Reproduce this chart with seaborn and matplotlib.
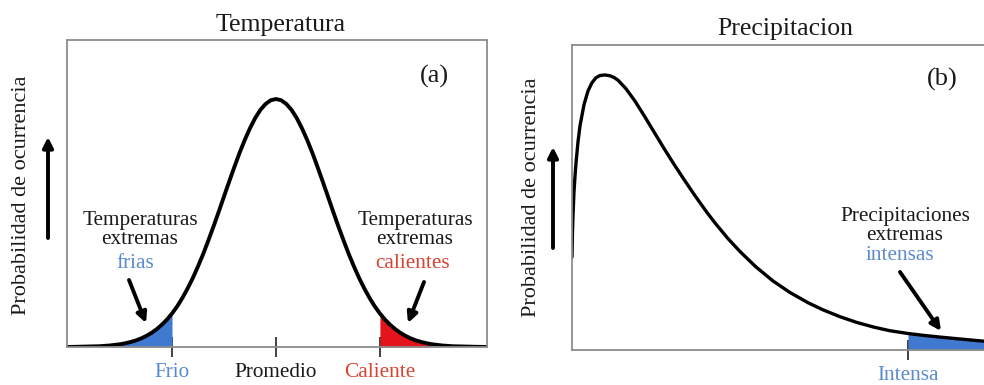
import numpy as np
import pandas as pd
import matplotlib
matplotlib.use("Agg")
import matplotlib.pyplot as plt
import seaborn as sns

# ---------------- data ----------------
# Panel (a): temperature distribution (x in std-devs from mean, y relative probability)
temp_x = [-4.02, -3.8, -3.6, -3.4, -3.2, -3.0, -2.9, -2.8, -2.7, -2.6, -2.5, -2.4,
          -2.3, -2.2, -2.1, -2.0, -1.9, -1.8, -1.7, -1.6, -1.5, -1.4, -1.3, -1.2,
          -1.1, -1.0, -0.9, -0.8, -0.7, -0.6, -0.5, -0.4, -0.3, -0.2, -0.1, 0.0,
          0.1, 0.2, 0.3, 0.4, 0.5, 0.6, 0.7, 0.8, 0.9, 1.0, 1.1, 1.2,
          1.3, 1.4, 1.5, 1.6, 1.7, 1.8, 1.9, 2.0, 2.1, 2.2, 2.3, 2.4,
          2.5, 2.6, 2.7, 2.8, 2.9, 3.0, 3.2, 3.4, 3.6, 3.8, 4.06]
temp_y = [0.000, 0.001, 0.002, 0.003, 0.006, 0.011, 0.015, 0.020, 0.026, 0.034, 0.044, 0.056,
          0.071, 0.089, 0.110, 0.135, 0.164, 0.198, 0.236, 0.278, 0.325, 0.375, 0.430, 0.487,
          0.546, 0.607, 0.667, 0.726, 0.783, 0.835, 0.882, 0.923, 0.956, 0.980, 0.995, 1.000,
          0.995, 0.980, 0.956, 0.923, 0.882, 0.835, 0.783, 0.726, 0.667, 0.607, 0.546, 0.487,
          0.430, 0.375, 0.325, 0.278, 0.236, 0.198, 0.164, 0.135, 0.110, 0.089, 0.071, 0.056,
          0.044, 0.034, 0.026, 0.020, 0.015, 0.011, 0.006, 0.003, 0.002, 0.001, 0.000]
temp_ticks = [-2.0, 0.0, 2.0]
temp_labels = ["Frio", "Promedio", "Caliente"]
cold_range = [-3.0, -2.0]
hot_range = [2.0, 3.0]

# Panel (b): precipitation distribution (skewed)
prec_x = [0.0, 0.01, 0.025, 0.05, 0.075, 0.1, 0.15, 0.2, 0.3, 0.4, 0.5, 0.6, 0.7,
          0.825, 0.95, 1.05, 1.15, 1.35, 1.575, 1.8, 2.075, 2.3, 2.525, 2.8, 3.075, 3.375,
          3.575, 3.9, 4.2, 4.6, 5.025, 5.45, 5.9, 6.275, 6.7, 7.125, 7.55, 7.95,
          8.4, 8.8, 9.2, 9.7, 10.3]
prec_y = [0.338, 0.42, 0.49, 0.575, 0.632, 0.68, 0.757, 0.815, 0.892, 0.942, 0.972, 0.99, 0.998,
          1.0, 0.997, 0.991, 0.981, 0.950, 0.905, 0.853, 0.787, 0.733, 0.681, 0.620, 0.561, 0.500,
          0.462, 0.405, 0.358, 0.302, 0.251, 0.209, 0.172, 0.146, 0.121, 0.100, 0.083, 0.070,
          0.060, 0.053, 0.047, 0.040, 0.032]
prec_ticks = [8.4]
prec_labels = ["Intensa"]
intense_start = 8.4

# ---------------- styling ----------------
sns.set_theme(style="white")
plt.rcParams["font.family"] = ["Liberation Serif", "DejaVu Serif"]

W, H = 984, 385
fig = plt.figure(figsize=(W / 100, H / 100), dpi=100)

def fx(px):
    return px / W

def fy(py):
    return 1 - py / H

BLUE_FILL = "#3f7ad0"
RED_FILL = "#e3141b"
BLUE_TXT = "#5a8ad0"
RED_TXT = "#d8432f"
SPINE = "#8c8c8c"
TXT = "#1a1a1a"
FS = 15.3

def style_axes(ax):
    for s in ax.spines.values():
        s.set_color(SPINE)
        s.set_linewidth(1.3)
    ax.set_yticks([])
    ax.tick_params(axis="x", bottom=True, direction="inout", length=15, width=1.3,
                   color="#333333", pad=4, labelsize=FS)
    ax.set_xlabel("")
    ax.set_ylabel("")

line_kw = dict(solid_joinstyle="round", solid_capstyle="round")

# ---------------- panel (a) ----------------
axa = fig.add_axes([fx(67), fy(347), fx(487) - fx(67), fy(40) - fy(347)])
dfa = pd.DataFrame({"x": temp_x, "y": temp_y})
xa = np.array(temp_x)
ya = np.array(temp_y)
m_cold = (xa >= cold_range[0]) & (xa <= cold_range[1])
m_hot = (xa >= hot_range[0]) & (xa <= hot_range[1])
axa.fill_between(xa[m_cold], 0, ya[m_cold], color=BLUE_FILL, lw=0)
axa.fill_between(xa[m_hot], 0, ya[m_hot], color=RED_FILL, lw=0)
sns.lineplot(data=dfa, x="x", y="y", ax=axa, color="black", lw=2.8, **line_kw)
axa.set_xlim(-4.02, 4.06)
axa.set_ylim(0, 1.238)
style_axes(axa)
axa.set_xticks(temp_ticks, temp_labels)
for lab, c in zip(axa.get_xticklabels(), [BLUE_TXT, TXT, RED_TXT]):
    lab.set_color(c)

# ---------------- panel (b) ----------------
axb = fig.add_axes([fx(572), fy(350), 1 - fx(572), fy(45) - fy(350)])
dfb = pd.DataFrame({"x": prec_x, "y": prec_y})
xb = np.array(prec_x)
yb = np.array(prec_y)
m_int = xb >= intense_start
axb.fill_between(xb[m_int], 0, yb[m_int], color=BLUE_FILL, lw=0)
sns.lineplot(data=dfb, x="x", y="y", ax=axb, color="black", lw=2.4, sort=False, **line_kw)
axb.set_xlim(0, 10.3)
axb.set_ylim(0, 1.109)
style_axes(axb)
axb.spines["right"].set_visible(False)
axb.set_xticks(prec_ticks, prec_labels)
for lab in axb.get_xticklabels():
    lab.set_color(BLUE_TXT)

# ---------------- titles, labels, annotations ----------------
fig.text(fx(281), fy(25), "Temperatura", ha="center", va="center", fontsize=18.5, color=TXT)
fig.text(fx(785), fy(29), "Precipitacion", ha="center", va="center", fontsize=18.5, color=TXT)
fig.text(fx(434), fy(76), "(a)", ha="center", va="center", fontsize=19, color=TXT)
fig.text(fx(942), fy(79), "(b)", ha="center", va="center", fontsize=19, color=TXT)

fig.text(fx(22), fy(195), "Probabilidad de ocurrencia", rotation=90,
         ha="center", va="center", fontsize=16, color=TXT)
fig.text(fx(531), fy(197), "Probabilidad de ocurrencia", rotation=90,
         ha="center", va="center", fontsize=16, color=TXT)

arrow_kw = dict(arrowstyle="-|>", color="black", lw=2.8, mutation_scale=15,
                shrinkA=0, shrinkB=0)

def fig_arrow(p0, p1):
    fig.add_artist(matplotlib.patches.FancyArrowPatch(
        (fx(p0[0]), fy(p0[1])), (fx(p1[0]), fy(p1[1])),
        transform=fig.transFigure, **arrow_kw))

fig_arrow((48, 238), (48, 137))
fig_arrow((553, 248), (553, 147))

# panel (a) annotations
fig.text(fx(140), fy(220), "Temperaturas", ha="center", va="center", fontsize=FS, color=TXT)
fig.text(fx(140), fy(240), "extremas", ha="center", va="center", fontsize=FS, color=TXT)
fig.text(fx(135), fy(264), "frias", ha="center", va="center", fontsize=FS, color=BLUE_TXT)
fig_arrow((129, 280), (146, 323))

fig.text(fx(415), fy(220), "Temperaturas", ha="center", va="center", fontsize=FS, color=TXT)
fig.text(fx(415), fy(240), "extremas", ha="center", va="center", fontsize=FS, color=TXT)
fig.text(fx(413), fy(264), "calientes", ha="center", va="center", fontsize=FS, color=RED_TXT)
fig_arrow((424, 282), (408, 323))

# panel (b) annotations
fig.text(fx(905), fy(217), "Precipitaciones", ha="center", va="center", fontsize=FS, color=TXT)
fig.text(fx(905), fy(236), "extremas", ha="center", va="center", fontsize=FS, color=TXT)
fig.text(fx(900), fy(256), "intensas", ha="center", va="center", fontsize=FS, color=BLUE_TXT)
fig_arrow((900, 272), (941, 331))

fig.savefig("out.png", dpi=100)
